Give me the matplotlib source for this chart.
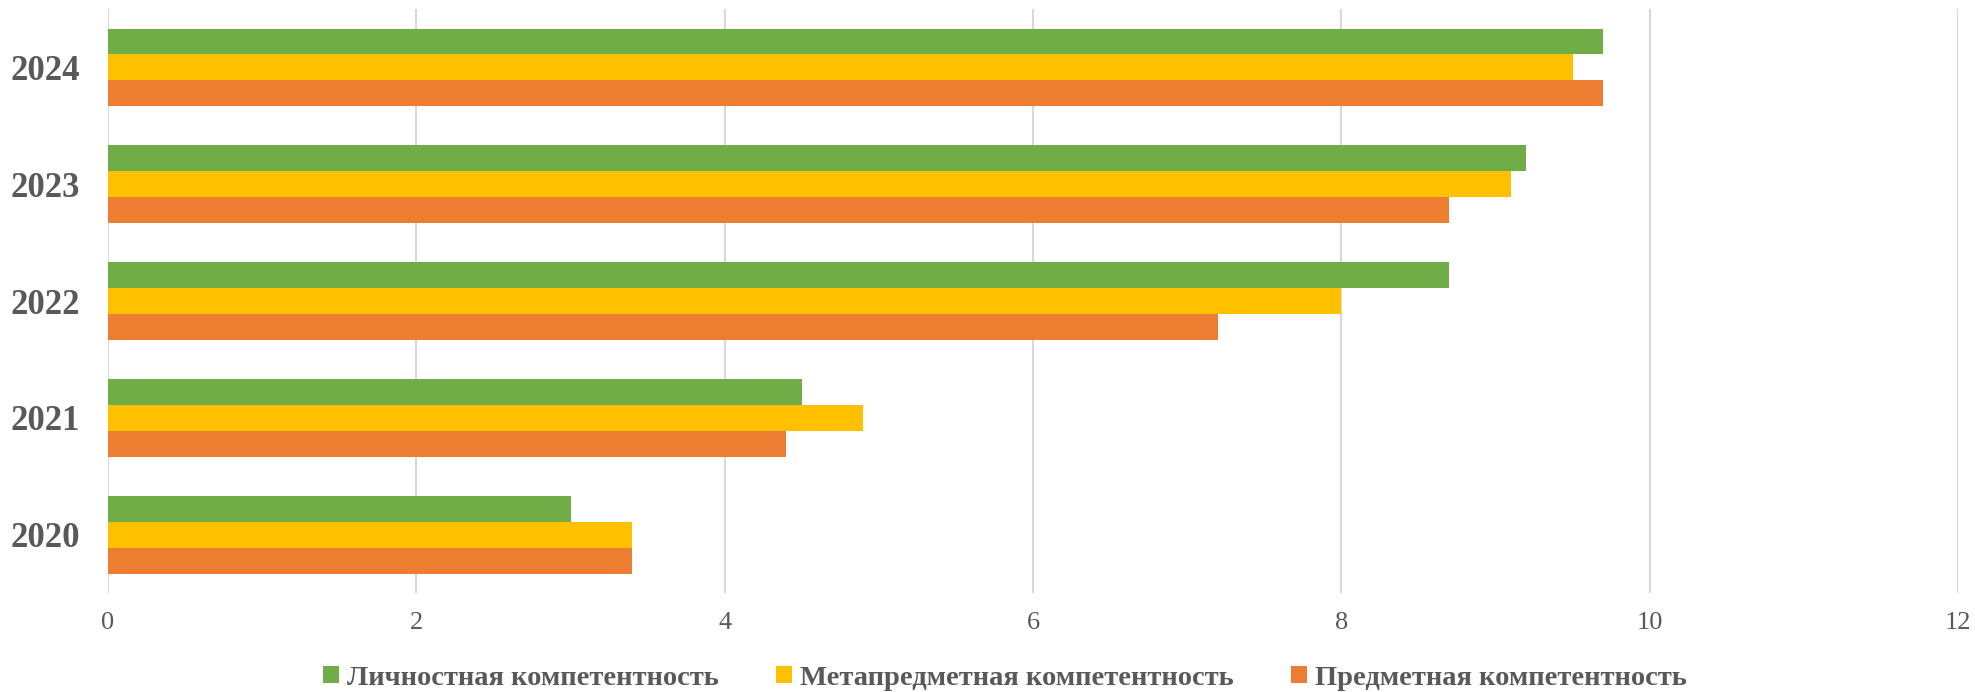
import matplotlib.pyplot as plt
import numpy as np

years = ["2020", "2021", "2022", "2023", "2024"]
lichnostnaya = [3.0, 4.5, 8.7, 9.2, 9.7]
metapredmetnaya = [3.4, 4.9, 8.0, 9.1, 9.5]
predmetnaya = [3.4, 4.4, 7.2, 8.7, 9.7]

series_names = ["Личностная компетентность",
                "Метапредметная компетентность",
                "Предметная компетентность"]
colors = ["#70AD47", "#FFC000", "#ED7D31"]
grey = "#595959"

plt.rcParams['font.family'] = ['Liberation Serif', 'DejaVu Serif']

fig = plt.figure(figsize=(19.75, 6.92), dpi=100)
ax = fig.add_axes([0.0547, 0.143, 0.9367, 0.844])

y = np.arange(len(years))
h = 0.222
ax.barh(y + h, lichnostnaya, height=h, color=colors[0], label=series_names[0], zorder=3)
ax.barh(y, metapredmetnaya, height=h, color=colors[1], label=series_names[1], zorder=3)
ax.barh(y - h, predmetnaya, height=h, color=colors[2], label=series_names[2], zorder=3)

ax.set_xlim(0, 12)
ax.set_ylim(-0.5, 4.5)
ax.set_xticks(np.arange(0, 13, 2))
ax.set_yticks(y)
ax.set_yticklabels(years, fontsize=25, fontweight='bold', color=grey)
ax.tick_params(axis='y', length=0, pad=20)
ax.tick_params(axis='x', length=0, pad=14, labelsize=19, labelcolor=grey)

ax.grid(axis='x', color='#D9D9D9', linewidth=1.5, zorder=0)
for s in ax.spines.values():
    s.set_visible(False)

# legend sits under the plot, a bit left of centre
leg = ax.legend(loc='center', bbox_to_anchor=(0.485, -0.146), ncol=3, frameon=False,
                prop={'size': 20.5, 'weight': 'bold'}, handlelength=0.55, handleheight=0.55,
                handletextpad=0.3, columnspacing=2.0)
for t in leg.get_texts():
    t.set_color(grey)

fig.savefig("out.png", dpi=100)
